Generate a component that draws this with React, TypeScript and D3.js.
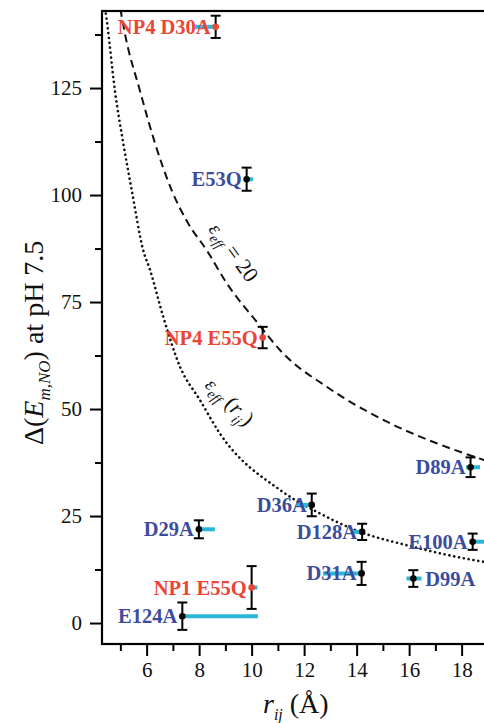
import React, { useEffect, useRef } from 'react';
import * as d3 from 'd3';

// mutants: label, r_ij (A), delta E (mV), y error, cyan r range
const labels = ['NP4 D30A', 'E53Q', 'NP4 E55Q', 'D89A', 'D36A', 'D29A', 'D128A', 'E100A', 'D31A', 'D99A', 'NP1 E55Q', 'E124A'];
const rValues = [8.63, 9.81, 10.42, 18.34, 12.29, 7.99, 14.21, 18.42, 14.19, 16.16, 10.0, 7.36];
const dE = [139.3, 103.7, 66.7, 36.4, 27.6, 21.9, 21.3, 19.0, 11.6, 10.4, 8.3, 1.6];
const dEerr = [2.6, 2.7, 2.5, 2.3, 2.65, 2.1, 1.9, 1.9, 2.7, 1.95, 5.0, 3.2];
const rLow = [7.84, 9.79, 10.42, 18.17, 11.72, 7.99, 13.88, 18.42, 12.72, 15.9, 10.0, 7.36];
const rHigh = [8.63, 10.05, 10.5, 18.7, 12.29, 8.6, 14.21, 19.4, 14.19, 16.47, 10.22, 10.24];
const isNP = [true, false, true, false, false, false, false, false, false, false, true, false];
const labelRight = [false, false, false, false, false, false, false, false, false, true, false, false];

// eps_eff = 20 curve
const dashedR = [5.0, 5.17, 5.74, 6.32, 6.95, 7.58, 8.29, 9.05, 10.19, 11.2, 12.86, 15.27, 17.05, 18.85, 19.4];
const dashedE = [143.5, 137.8, 124.5, 112.1, 101.2, 93.4, 87.1, 79.4, 70.4, 63.0, 55.2, 46.7, 42.0, 38.1, 37.0];
// eps_eff(r_ij) curve
const dottedR = [4.42, 4.48, 4.79, 5.11, 5.43, 5.87, 6.13, 6.63, 7.27, 8.03, 8.79, 11.08, 12.6, 14.13, 15.9, 18.85, 19.4];
const dottedE = [143.5, 140.9, 124.5, 112.1, 101.2, 87.1, 82.5, 71.6, 59.9, 52.1, 44.3, 31.1, 25.6, 21.3, 18.2, 14.3, 13.8];

const xMajor = [6, 8, 10, 12, 14, 16, 18];
const xMinor = [5, 7, 9, 11, 13, 15, 17, 19];
const yMajor = [0, 25, 50, 75, 100, 125];
const yMinor = [12.5, 37.5, 62.5, 87.5, 112.5, 137.5];

const RED = '#ec4535';
const BLUE = '#3c4c9d';
const CYAN = '#2ab6d8';
const FONT = 'Liberation Serif, Tinos, DejaVu Serif, serif';

export default function App() {
  const svgRef = useRef<SVGSVGElement>(null);

  useEffect(() => {
    const W = 484;
    const H = 723;
    const left = 102, top = 11, bottom = 644, right = 501;

    const svg = d3.select(svgRef.current);
    svg.selectAll('*').remove();
    svg.attr('width', W).attr('height', H).attr('font-family', FONT).style('font-family', FONT);

    const x = d3.scaleLinear().domain([4.3, 19.5]).range([left, right]);
    const y = d3.scaleLinear().domain([-4.9, 143]).range([bottom, top]);

    svg.append('defs').append('clipPath').attr('id', 'plot')
      .append('rect').attr('x', left).attr('y', top).attr('width', right - left).attr('height', bottom - top);

    // axes
    const styleAxis = (g: any) => {
      g.attr('font-family', FONT).attr('font-size', 21);
      g.select('.domain').remove();
      g.selectAll('line').attr('stroke', '#000').attr('stroke-width', 2);
      g.selectAll('text').attr('font-family', FONT).attr('font-weight', 'normal').attr('fill', '#111');
    };
    svg.append('g').attr('transform', `translate(0,${bottom})`)
      .call(d3.axisBottom(x).tickValues(xMinor).tickSize(7).tickFormat(() => ''))
      .call(styleAxis);
    svg.append('g').attr('transform', `translate(0,${bottom})`)
      .call(d3.axisBottom(x).tickValues(xMajor).tickSize(12).tickPadding(6).tickFormat(d3.format('d')))
      .call(styleAxis);
    svg.append('g').attr('transform', `translate(${left},0)`)
      .call(d3.axisLeft(y).tickValues(yMinor).tickSize(7).tickFormat(() => ''))
      .call(styleAxis);
    svg.append('g').attr('transform', `translate(${left},0)`)
      .call(d3.axisLeft(y).tickValues(yMajor).tickSize(12).tickPadding(8).tickFormat(d3.format('d')))
      .call(styleAxis);

    // frame
    svg.append('rect').attr('x', left).attr('y', top).attr('width', right - left).attr('height', bottom - top)
      .attr('fill', 'none').attr('stroke', '#000').attr('stroke-width', 2.2);

    // curves
    const line = d3.line<number>().curve(d3.curveMonotoneX);
    const plot = svg.append('g').attr('clip-path', 'url(#plot)');
    plot.append('path')
      .attr('d', line.x((_, i) => x(dashedR[i])).y((d) => y(d))(dashedE))
      .attr('fill', 'none').attr('stroke', '#111').attr('stroke-width', 2).attr('stroke-dasharray', '8,5');
    plot.append('path')
      .attr('d', line.x((_, i) => x(dottedR[i])).y((d) => y(d))(dottedE))
      .attr('fill', 'none').attr('stroke', '#111').attr('stroke-width', 2.6)
      .attr('stroke-linecap', 'round').attr('stroke-dasharray', '0.1,4.8');

    // curve annotations
    const a1 = svg.append('text').attr('fill', '#111').attr('font-family', FONT)
      .attr('transform', `translate(${x(8.34)},${y(92)}) rotate(54)`);
    a1.append('tspan').attr('font-size', 20).attr('font-style', 'italic').text('ε');
    a1.append('tspan').attr('font-size', 14).attr('font-style', 'italic').attr('dy', 5).text('eff');
    a1.append('tspan').attr('font-size', 22).attr('dy', -5).text(' = 20');

    const a2 = svg.append('text').attr('fill', '#111').attr('font-family', FONT)
      .attr('transform', `translate(${x(8.19)},${y(55.4)}) rotate(45)`);
    a2.append('tspan').attr('font-size', 20).attr('font-style', 'italic').text('ε');
    a2.append('tspan').attr('font-size', 14).attr('font-style', 'italic').attr('dy', 5).text('eff');
    a2.append('tspan').attr('font-size', 22).attr('dy', -5).text(' (');
    a2.append('tspan').attr('font-size', 22).attr('font-style', 'italic').text('r');
    a2.append('tspan').attr('font-size', 14).attr('font-style', 'italic').attr('dy', 6).text('ij');
    a2.append('tspan').attr('font-size', 22).attr('dy', -6).text(')');

    // point labels
    svg.append('g').selectAll('text').data(labels).join('text')
      .attr('x', (_, i) => (labelRight[i] ? x(rValues[i]) + 12 : x(rValues[i]) - 5))
      .attr('y', (_, i) => y(dE[i]) + 7)
      .attr('text-anchor', (_, i) => (labelRight[i] ? 'start' : 'end'))
      .attr('font-family', FONT)
      .attr('font-weight', 'bold').attr('font-size', 20.5)
      .attr('fill', (_, i) => (isNP[i] ? RED : BLUE))
      .text((d) => d);

    // cyan r ranges
    plot.append('g').selectAll('line').data(dE).join('line')
      .attr('x1', (_, i) => x(rLow[i])).attr('x2', (_, i) => x(rHigh[i]))
      .attr('y1', (d) => y(d)).attr('y2', (d) => y(d))
      .attr('stroke', CYAN).attr('stroke-width', 4);

    // error bars
    const eb = svg.append('g').attr('stroke', '#000').attr('stroke-width', 2);
    dE.forEach((v, i) => {
      const cx = x(rValues[i]);
      const y0 = y(v - dEerr[i]);
      const y1 = y(v + dEerr[i]);
      eb.append('line').attr('x1', cx).attr('x2', cx).attr('y1', y0).attr('y2', y1);
      eb.append('line').attr('x1', cx - 5).attr('x2', cx + 5).attr('y1', y0).attr('y2', y0);
      eb.append('line').attr('x1', cx - 5).attr('x2', cx + 5).attr('y1', y1).attr('y2', y1);
    });
    svg.append('g').selectAll('circle').data(dE).join('circle')
      .attr('cx', (_, i) => x(rValues[i])).attr('cy', (d) => y(d)).attr('r', 3.3)
      .attr('fill', (_, i) => (isNP[i] ? RED : '#000'));

    // axis titles
    const xt = svg.append('text').attr('font-size', 28).attr('fill', '#111').attr('font-family', FONT)
      .attr('x', 263).attr('y', 713);
    xt.append('tspan').attr('font-style', 'italic').text('r');
    xt.append('tspan').attr('font-style', 'italic').attr('font-size', 16).attr('dy', 7).text('ij');
    xt.append('tspan').attr('dy', -7).text(' (Å)');

    const yt = svg.append('text').attr('font-size', 28).attr('fill', '#111').attr('font-family', FONT)
      .attr('transform', 'translate(43,445) rotate(-90)');
    yt.append('tspan').text('Δ(');
    yt.append('tspan').attr('font-style', 'italic').text('E');
    yt.append('tspan').attr('font-style', 'italic').attr('font-size', 17).attr('dy', 7).text('m,NO');
    yt.append('tspan').attr('dy', -7).text(') at pH 7.5');
  }, []);

  return <svg ref={svgRef} style={{ position: 'absolute', left: 0, top: 0, background: '#fff' }}></svg>;
}
